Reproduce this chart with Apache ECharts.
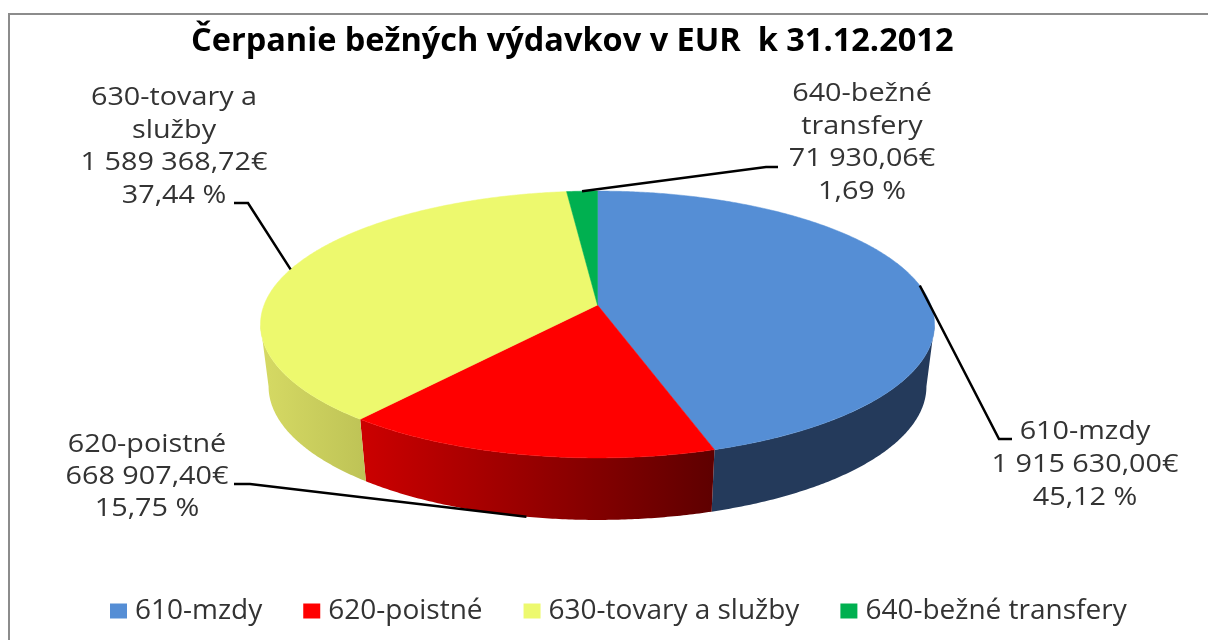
<!DOCTYPE html>
<html><head><meta charset="utf-8">
<style>html,body{margin:0;padding:0;background:#fff}#c{width:1208px;height:640px}</style>
<script src="https://cdn.jsdelivr.net/npm/echarts@6/dist/echarts.min.js"></script>
</head><body><div id="c"></div>
<script>
const categories = ['610-mzdy', '620-poistné', '630-tovary a služby', '640-bežné transfery'];
const amounts = [1915630.00, 668907.40, 1589368.72, 71930.06];
const labelTexts = [
  ['610-mzdy', '1 915 630,00€', '45,12 %'],
  ['620-poistné', '668 907,40€', '15,75 %'],
  ['630-tovary a', 'služby', '1 589 368,72€', '37,44 %'],
  ['640-bežné', 'transfery', '71 930,06€', '1,69 %']
];
const titleText = 'Čerpanie bežných výdavkov v EUR  k 31.12.2012';

const topColors = ['#558ed5', '#ff0000', '#edf96e', '#00b050'];
const wallFills = [
  [[0, '#243a5b'], [1, '#243a5b']],
  [[0, '#cc0000'], [1, '#5e0000']],
  [[0, '#d6da64'], [1, '#bec356']],
  [[0, '#008a3e'], [1, '#008a3e']]
];
const labelLayout = [
  {cx: 1085, y: 432, lh: 33, elbow: [[1012, 439], [999, 439]], low: false},
  {cx: 147, y: 445, lh: 32, elbow: [[234, 484], [250, 484]], low: true},
  {cx: 174, y: 98, lh: 32.5, elbow: [[234, 203], [248, 203]], low: false},
  {cx: 862, y: 94, lh: 32.5, elbow: [[778, 167], [766, 167]], low: false}
];
const TEXT_SIZE = 25, TEXT_STRETCH = 1.15;

const P = {cx: 597.5, cy: 305, R: 333.4, A: 130.6, k: 0.146, depth: 62, shrink: 0.976};
const FOLD = Math.acos(-P.k) * 180 / Math.PI;
function project(deg, lower) {
  const t = deg * Math.PI / 180, d = Math.cos(t), w = 1 + P.k * d;
  const x = P.R * Math.sin(t) / w, y = -P.A * d / w;
  return lower ? [P.cx + x * P.shrink, P.cy + y + P.depth] : [P.cx + x, P.cy + y];
}
const total = amounts.reduce((a, b) => a + b, 0);
const spans = [];
amounts.reduce((acc, v) => { const e = acc + v / total * 360; spans.push([acc, e]); return e; }, 0);

function arc(a, b, lower) {
  const n = Math.max(2, Math.ceil(Math.abs(b - a) * 2)), pts = [];
  for (let i = 0; i <= n; i++) pts.push(project(a + (b - a) * i / n, lower));
  return pts;
}
function renderSlice(params) {
  const i = params.seriesIndex, [a, b] = spans[i], kids = [];
  const wa = Math.max(a, FOLD), wb = Math.min(b, 360 - FOLD);
  if (wb > wa) {
    const s = wallFills[i];
    kids.push({type: 'polygon', shape: {points: arc(wa, wb, false).concat(arc(wa, wb, true).reverse())},
      style: {fill: new echarts.graphic.LinearGradient(0, 0, 1, 0, s.map(q => ({offset: q[0], color: q[1]})))}});
  }
  kids.push({type: 'polygon', shape: {points: [[P.cx, P.cy]].concat(arc(a, b, false))},
    style: {fill: topColors[i], stroke: topColors[i], lineWidth: 0.5}});
  return {type: 'group', children: kids};
}
function renderLabel(params) {
  const i = params.dataIndex, L = labelLayout[i], [a, b] = spans[i], kids = [];
  const anchor = project((a + b) / 2, L.low);
  kids.push({type: 'polyline', shape: {points: L.elbow.concat([anchor])}, style: {stroke: '#000', lineWidth: 2.5, fill: 'none'}});
  labelTexts[i].forEach((t, j) => kids.push({
    type: 'text', x: L.cx, y: L.y + j * L.lh, scaleX: TEXT_STRETCH,
    style: {text: t, x: 0, y: 0, align: 'center', verticalAlign: 'middle', fill: '#333',
      font: TEXT_SIZE + 'px "Open Sans"'}
  }));
  return {type: 'group', children: kids};
}
const series = categories.map((name, i) => ({
  type: 'custom', name, coordinateSystem: 'none', silent: true,
  itemStyle: {color: topColors[i]}, data: [amounts[i]], renderItem: renderSlice
}));
series.push({type: 'custom', name: 'labels', coordinateSystem: 'none', silent: true, z: 5,
  data: amounts, renderItem: renderLabel});

const chart = echarts.init(document.getElementById('c'), null, {renderer: 'canvas'});
chart.setOption({
  animation: false,
  backgroundColor: '#fff',
  title: {text: titleText, left: 186, top: 20,
    textStyle: {fontFamily: 'Open Sans', fontWeight: 'bold', fontSize: 32.5, color: '#000'}},
  legend: {data: categories, left: 105, top: 592, icon: 'rect', itemWidth: 17, itemHeight: 15, itemGap: 41,
    selectedMode: false,
    textStyle: {fontFamily: 'Open Sans', fontSize: 28, color: '#333', padding: [0, 0, 0, 3]}},
  graphic: [{type: 'rect', z: -1, silent: true, shape: {x: 9, y: 14, width: 1400, height: 800},
    style: {fill: '#fff', stroke: '#8c8c8c', lineWidth: 2}}],
  series
});
</script></body></html>
